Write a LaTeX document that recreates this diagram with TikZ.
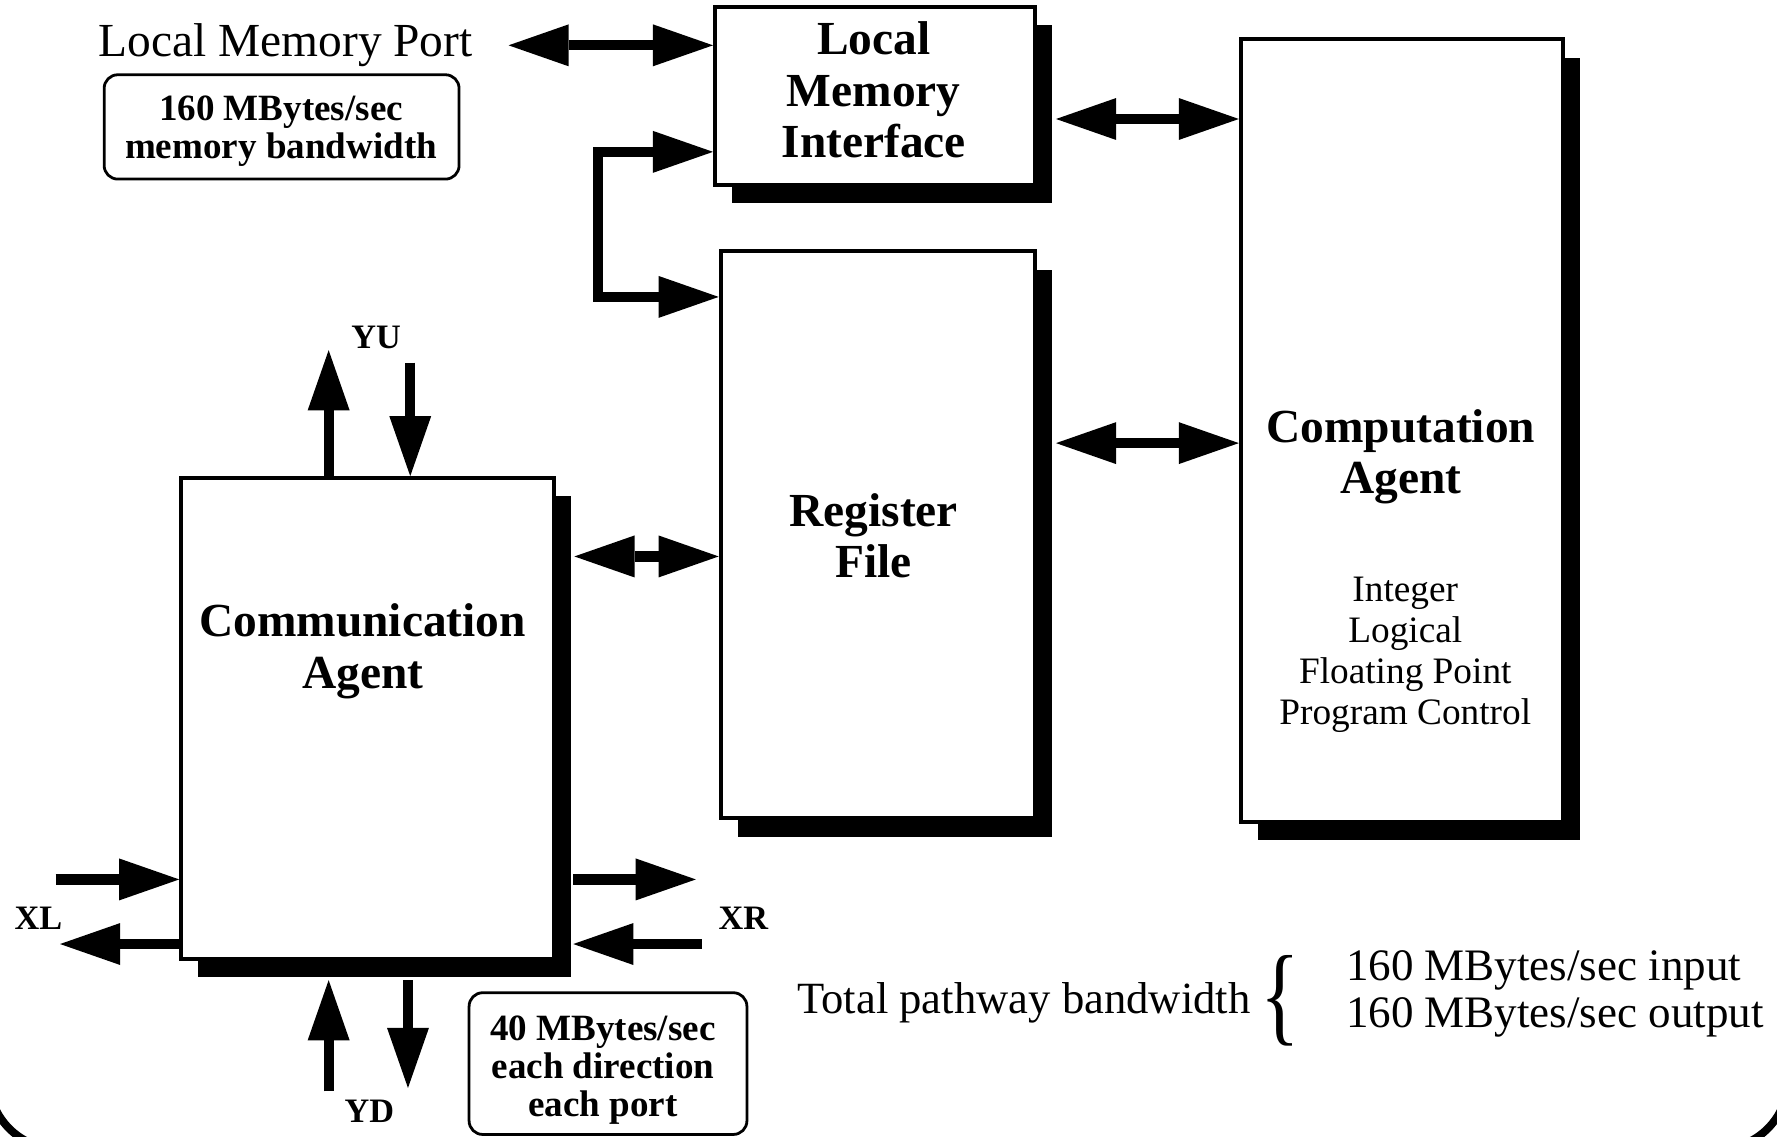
\documentclass[tikz,border=0pt]{standalone}
\usepackage{fontspec}
\setmainfont{Liberation Serif}
\usetikzlibrary{arrows.meta,shadows,calc}

\tikzset{
  unitbox/.style={draw, fill=white, line width=1pt, inner sep=0pt,
    drop shadow={shadow xshift=0.15cm, shadow yshift=-0.16cm, fill=black, opacity=1}},
  notebox/.style={draw, rounded corners=0.12cm, line width=0.7pt, inner sep=0pt},
  notetxt/.style={inner sep=0pt, align=center, font=\fontsize{9.3}{9.5}\selectfont\bfseries},
  boxtitle/.style={inner sep=0pt, align=center, font=\fontsize{11.9}{12.9}\selectfont\bfseries},
  listtxt/.style={inner sep=0pt, align=center, font=\fontsize{9.36}{10.25}\selectfont},
  plaintxt/.style={inner sep=0pt, font=\fontsize{11.9}{13}\selectfont},
  portlbl/.style={inner sep=0pt, font=\fontsize{8.6}{10}\selectfont\bfseries},
  fattip/.tip={Triangle[length=0.53cm, width=0.37cm, line width=0pt]},
  pipe/.style={line width=0.09cm, -fattip},
  bipipe/.style={line width=0.09cm, fattip-fattip},
}

\begin{document}
\begin{tikzpicture}[x=0.01cm, y=-0.01cm]
\useasboundingbox (0,0) rectangle (1568,1003);
\fill[white] (0,0) rectangle (1568,1003);

% page frame, only its lower corners fall inside the sheet
\begin{scope}
  \clip (0,0) rectangle (1568,1003);
  \draw[line width=0.07cm, rounded corners=0.62cm] (-10,-300) rectangle (1578,1014);
\end{scope}

% functional blocks
\node[unitbox, minimum width=2.82cm, minimum height=1.57cm] (lmi) at (772,84.5) {};
\node[unitbox, minimum width=2.77cm, minimum height=5.00cm] (rf) at (774.5,472) {};
\node[unitbox, minimum width=2.84cm, minimum height=6.90cm] (ca) at (1237,380) {};
\node[unitbox, minimum width=3.29cm, minimum height=4.24cm] (comm) at (324.5,634) {};

\node[boxtitle] (lmit) at (771,79.5) {Local\\Memory\\Interface};
\node[boxtitle] (rft) at (771,472.5) {Register\\File};
\node[boxtitle] (cat) at (1236,403) {Computation\\Agent};
\node[listtxt] (cal) at (1240,578) {Integer\\Logical\\Floating Point\\Program Control};
\node[boxtitle] (commt) at (320,574.5) {Communication\\Agent};

% bandwidth notes
\node[notebox, minimum width=3.13cm, minimum height=0.92cm] (bw1) at (248.5,112) {};
\node[notetxt] (bw1t) at (248,116) {160 MBytes/sec\\memory bandwidth};
\node[notebox, minimum width=2.45cm, minimum height=1.25cm] (bw2) at (536.5,938.5) {};
\node[notetxt] (bw2t) at (532,944.5) {40 MBytes/sec\\each direction\\each port};

\node[plaintxt, anchor=base] (lmp) at (252,50) {Local Memory Port};
\node[inner sep=0pt, anchor=base, font=\fontsize{11.2}{13}\selectfont] (tpb) at (903.5,894) {Total pathway bandwidth};
\node[inner sep=0pt, font=\fontsize{27.5}{27.5}\selectfont] (brace) at (1129.5,883) {\scalebox{0.75}[1]{\{}};
\node[inner sep=0pt, anchor=west, align=left, font=\fontsize{11.3}{11.66}\selectfont] (rates) at (1187,877) {160 MBytes/sec input\\160 MBytes/sec output};

% port labels
\node[portlbl] (yu) at (332,298) {YU};
\node[portlbl] (yd) at (326,981) {YD};
\node[portlbl] (xl) at (34,810) {XL};
\node[portlbl] (xr) at (656,810) {XR};

% free ends of the port arrows
\coordinate (yuout) at (290,309);
\coordinate (yuin) at (362,320);
\coordinate (xlin) at (49,776);
\coordinate (xlout) at (53,833);
\coordinate (xrout) at (614,776);
\coordinate (xrin) at (619,833);
\coordinate (ydin) at (290,963);
\coordinate (ydout) at (360,960);

% internal data paths
\draw[bipipe] ([xshift=0.31cm]lmp.east) -- (lmp.east -| lmi.west);
\path (lmi.east) ++(17,20.5) coordinate (lmir);
\draw[bipipe] (lmir) -- (lmir -| ca.west);
\path (rf.east) ++(17,-81) coordinate (rfr);
\draw[bipipe] (rfr) -- (rfr -| ca.west);
\path (comm.east) ++(16,-143) coordinate (commr);
\draw[bipipe] (commr) -- (commr -| rf.west);
\draw[bipipe] (lmi.west |- 0,134) -| (528,262) -- (rf.west |- 0,262);

% communication ports
\draw[pipe] (yuout |- comm.north) -- (yuout);
\draw[pipe] (yuin) -- (yuin |- comm.north);
\draw[pipe] (xlin) -- (xlin -| comm.west);
\draw[pipe] (xlout -| comm.west) -- (xlout);
\draw[pipe] ([xshift=0.15cm]xrout -| comm.east) -- (xrout);
\draw[pipe] (xrin) -- ([xshift=0.15cm]xrin -| comm.east);
\draw[pipe] (ydin) -- ([yshift=-0.17cm]ydin |- comm.south);
\draw[pipe] ([yshift=-0.17cm]ydout |- comm.south) -- (ydout);
\end{tikzpicture}
\end{document}
